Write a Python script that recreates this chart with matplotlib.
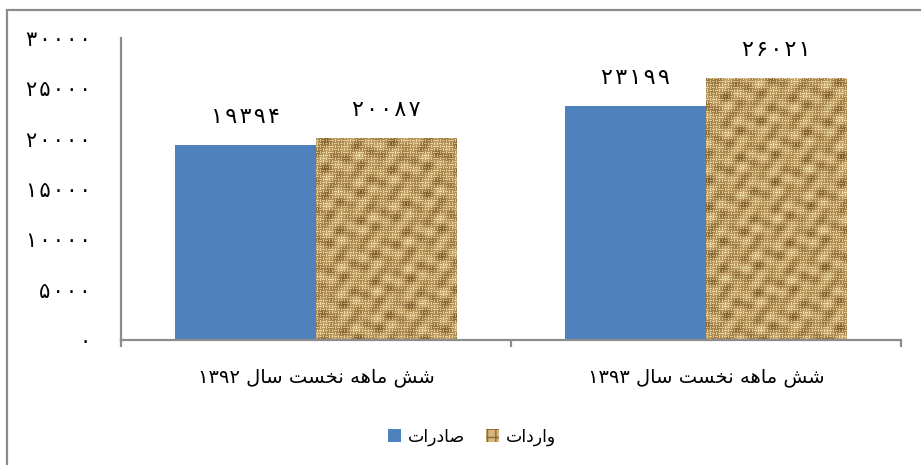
import matplotlib
matplotlib.use('Agg')
import matplotlib.pyplot as plt
import numpy as np
from matplotlib.colors import LinearSegmentedColormap
from matplotlib.patches import Rectangle
from matplotlib.ticker import FuncFormatter, FixedLocator

# data
categories = ['شش ماهه نخست سال 1392', 'شش ماهه نخست سال 1393']
series_names = ['صادرات', 'واردات']
exports = [19394, 23199]
imports = [20087, 26021]
yticks = [0, 5000, 10000, 15000, 20000, 25000, 30000]

# minimal arabic shaping (matplotlib draws glyphs left to right, no joining)
FORMS = {
    'ا': ('\ufe8d', '\ufe8e', None, None),
    'ت': ('\ufe95', '\ufe96', '\ufe97', '\ufe98'),
    'خ': ('\ufea5', '\ufea6', '\ufea7', '\ufea8'),
    'د': ('\ufea9', '\ufeaa', None, None),
    'ر': ('\ufead', '\ufeae', None, None),
    'س': ('\ufeb1', '\ufeb2', '\ufeb3', '\ufeb4'),
    'ش': ('\ufeb5', '\ufeb6', '\ufeb7', '\ufeb8'),
    'ص': ('\ufeb9', '\ufeba', '\ufebb', '\ufebc'),
    'ل': ('\ufedd', '\ufede', '\ufedf', '\ufee0'),
    'م': ('\ufee1', '\ufee2', '\ufee3', '\ufee4'),
    'ن': ('\ufee5', '\ufee6', '\ufee7', '\ufee8'),
    'ه': ('\ufee9', '\ufeea', '\ufeeb', '\ufeec'),
    'و': ('\ufeed', '\ufeee', None, None),
}
FA_DIGITS = str.maketrans('0123456789', '۰۱۲۳۴۵۶۷۸۹')


def to_fa(n, spaced=False):
    s = str(n).translate(FA_DIGITS)
    if spaced:
        s = '\u200a'.join(s)
    return s


def shape_word(word):
    out = []
    for i, ch in enumerate(word):
        if ch not in FORMS:
            out.append(ch)
            continue
        prev = word[i - 1] if i > 0 else None
        nxt = word[i + 1] if i + 1 < len(word) else None
        join_prev = prev in FORMS and FORMS[prev][2] is not None
        join_next = FORMS[ch][2] is not None and nxt in FORMS
        iso, fin, ini, med = FORMS[ch]
        if join_prev and join_next:
            out.append(med)
        elif join_prev:
            out.append(fin)
        elif join_next:
            out.append(ini)
        else:
            out.append(iso)
    return ''.join(out)


def rtl(text):
    words = []
    for w in text.split(' '):
        if w.isdigit():
            words.append(to_fa(w))
        else:
            words.append(shape_word(w)[::-1])
    return ' '.join(words[::-1])


plt.rcParams['font.family'] = ['DejaVu Sans']

fig = plt.figure(figsize=(9.21, 4.65), dpi=100)
ax = fig.add_axes([121 / 921, 125 / 465, 780 / 921, 302 / 465])

# outer chart border
fig.patches.append(Rectangle((7 / 921, -0.1), 1.2, 1.1 - 10 / 465,
                             transform=fig.transFigure, fill=False,
                             edgecolor='#8c8c8c', linewidth=1.6))

x = np.arange(len(categories))
w = 0.3615
blue = '#4f81bd'
b1 = ax.bar(x - w / 2, exports, w, color=blue, zorder=2, label=rtl(series_names[0]))
b2 = ax.bar(x + w / 2, imports, w, facecolor='#d6b679', edgecolor='#8b6b3d',
            linewidth=0, hatch='++', zorder=2, label=rtl(series_names[1]))

ax.set_xlim(-0.5, len(categories) - 0.5)
ax.set_ylim(0, 30000)

# burlap texture clipped to each import bar
hpx, wpx = 302, 780
yy, xx = np.mgrid[0:hpx, 0:wpx]
cs = 3
cell = ((xx // cs) + (yy // cs) + (xx // (cs * 5))) % 2
tex = np.where(cell == 0,
               np.sin(np.pi * ((yy % cs) + 0.5) / cs),
               np.sin(np.pi * ((xx % cs) + 0.5) / cs))
shade = (np.sin(xx / 5.3 + 0.7) * np.cos(yy / 3.9 + 1.1)
         + 0.6 * np.sin(xx / 2.7 + yy / 4.4) + 0.5 * np.cos(xx / 9.1 - yy / 2.3))
tex = 0.6 * tex + 0.4 * (shade + 2.1) / 4.2
burlap = LinearSegmentedColormap.from_list(
    'burlap', ['#765629', '#b49258', '#deC48c', '#f6e8bc'])
x0, x1 = ax.get_xlim()
y0, y1 = ax.get_ylim()
for bar in b2:
    im = ax.imshow(tex, extent=(x0, x1, y0, y1), aspect='auto', cmap=burlap,
                   interpolation='nearest', zorder=2.5)
    im.set_clip_path(bar)
ax.set_xlim(x0, x1)
ax.set_ylim(y0, y1)

# value labels
for rects, vals in ((b1, exports), (b2, imports)):
    for r, v in zip(rects, vals):
        ax.annotate(to_fa(v, spaced=True), (r.get_x() + r.get_width() / 2, v),
                    xytext=(0, 13), textcoords='offset points',
                    ha='center', va='bottom', fontsize=16, color='black')

# axes styling
for s in ('top', 'right'):
    ax.spines[s].set_visible(False)
for s in ('left', 'bottom'):
    ax.spines[s].set_color('#8c8c8c')
    ax.spines[s].set_linewidth(1.6)

ax.yaxis.set_major_locator(FixedLocator(yticks))
ax.yaxis.set_major_formatter(FuncFormatter(lambda v, p: to_fa(int(v), spaced=True)))
ax.tick_params(axis='y', length=0, pad=22, labelsize=15)

ax.set_xticks(x)
ax.set_xticklabels([rtl(c) for c in categories], fontsize=14)
ax.tick_params(axis='x', length=0, pad=20)
ax.set_xticks(np.arange(len(categories) + 1) - 0.5, minor=True)
ax.tick_params(axis='x', which='minor', length=5, width=1.6, color='#8c8c8c')

fig.legend(loc='center', bbox_to_anchor=(472 / 921, 28 / 465), ncol=2,
           frameon=False, fontsize=12.5, handlelength=0.75, handleheight=0.75,
           handletextpad=0.4, columnspacing=1.2)

fig.savefig('out.png', dpi=100)
